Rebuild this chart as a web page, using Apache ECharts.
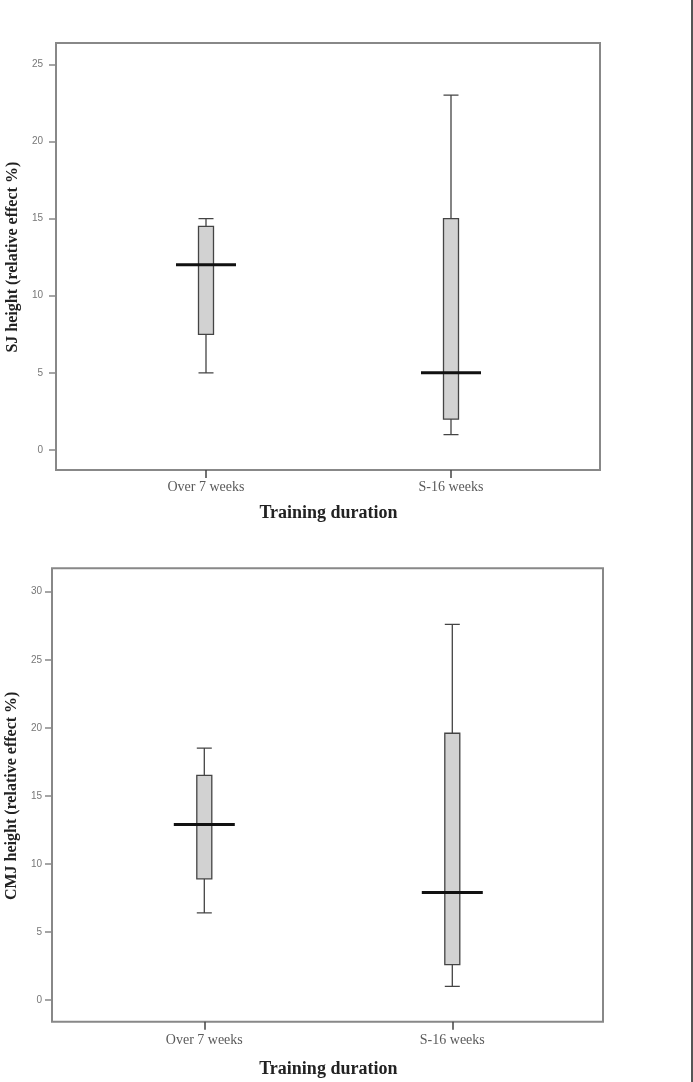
<!DOCTYPE html>
<html>
<head>
<meta charset="utf-8">
<script src="https://cdn.jsdelivr.net/npm/echarts@6/dist/echarts.min.js"></script>
<style>
  html, body { margin: 0; padding: 0; background: #fff; }
  #chart { width: 693px; height: 1082px; position: relative; }
  #edge { position: absolute; left: 691px; top: 0; width: 2px; height: 1082px; background: #555; }
</style>
</head>
<body>
<div id="chart"></div>
<div id="edge"></div>
<script>
// ---- data ----
const categories = ['Over 7 weeks', 'S-16 weeks'];
// [min, Q1, median, Q3, max]
const sjBox = [
  [5, 7.5, 12, 14.5, 15],
  [1, 2, 5, 15, 23]
];
const cmjBox = [
  [6.4, 8.9, 12.9, 16.5, 18.5],
  [1.0, 2.6, 7.9, 19.6, 27.6]
];
const sjTicks = [0, 25, 5];   // min, max, step
const cmjTicks = [0, 30, 5];
const xTitle = 'Training duration';
const sjTitle = 'SJ height (relative effect %)';
const cmjTitle = 'CMJ height (relative effect %)';

const medians = arr => arr.map((d, i) => [categories[i], d[2]]);

const serif = '"Liberation Serif", "DejaVu Serif", serif';
const sans = '"Liberation Sans", Arial, sans-serif';

function frameAxes(idx) {
  return {
    x: { gridIndex: idx, type: 'value', show: false, min: 0, max: 1 },
    y: { gridIndex: idx, type: 'value', show: false, min: 0, max: 1 }
  };
}

function dataX(idx, offset, labelMargin, nameGap) {
  return {
    gridIndex: idx, type: 'category', data: categories, offset: offset,
    axisLine: { show: false, onZero: false },
    axisTick: { show: true, alignWithLabel: true, length: 8, lineStyle: { color: '#444', width: 1.5 } },
    axisLabel: { margin: labelMargin, fontFamily: serif, fontSize: 14, color: '#5a5a5a' },
    name: xTitle, nameLocation: 'middle', nameGap: nameGap,
    nameTextStyle: { fontFamily: serif, fontWeight: 'bold', fontSize: 18, color: '#222' },
    splitLine: { show: false }
  };
}

function dataY(idx, ticks, offset, labelMargin, title, nameGap) {
  return {
    gridIndex: idx, type: 'value', min: ticks[0], max: ticks[1], interval: ticks[2], offset: offset,
    axisLine: { show: false, onZero: false },
    axisTick: { show: true, length: 7, lineStyle: { color: '#888', width: 1.5 } },
    axisLabel: { margin: labelMargin, fontFamily: sans, fontSize: 10, color: '#777' },
    splitLine: { show: false },
    name: title, nameLocation: 'middle', nameRotate: 90, nameGap: nameGap,
    nameTextStyle: { fontFamily: serif, fontWeight: 'bold', fontSize: 16, color: '#222' }
  };
}

const f0 = frameAxes(0), f2 = frameAxes(2);
const noBounds = { outerBoundsMode: 'none', containLabel: false };

const option = {
  animation: false,
  backgroundColor: '#fff',
  grid: [
    Object.assign({ left: 56, top: 43, width: 544, height: 427, show: true, borderColor: '#888', borderWidth: 2, backgroundColor: 'transparent' }, noBounds),
    Object.assign({ left: 83.5, top: 64.3, width: 490, height: 385.7 }, noBounds),
    Object.assign({ left: 52, top: 568.3, width: 551, height: 453.4, show: true, borderColor: '#888', borderWidth: 2, backgroundColor: 'transparent' }, noBounds),
    Object.assign({ left: 80.3, top: 591.7, width: 496, height: 408.3 }, noBounds)
  ],
  xAxis: [
    f0.x,
    dataX(1, 20, 10, 34),
    f2.x,
    dataX(3, 21.7, 12, 39)
  ],
  yAxis: [
    f0.y,
    dataY(1, sjTicks, 27.5, 13, sjTitle, 30),
    f2.y,
    dataY(3, cmjTicks, 28.3, 10, cmjTitle, 28)
  ],
  series: [
    {
      type: 'boxplot', xAxisIndex: 1, yAxisIndex: 1, data: sjBox, boxWidth: [15, 15],
      itemStyle: { color: '#d2d2d2', borderColor: '#444', borderWidth: 1.3 }
    },
    {
      type: 'scatter', xAxisIndex: 1, yAxisIndex: 1, data: medians(sjBox),
      symbol: 'rect', symbolSize: [60, 3], itemStyle: { color: '#111', opacity: 1 }
    },
    {
      type: 'boxplot', xAxisIndex: 3, yAxisIndex: 3, data: cmjBox, boxWidth: [15, 15],
      itemStyle: { color: '#d2d2d2', borderColor: '#444', borderWidth: 1.3 }
    },
    {
      type: 'scatter', xAxisIndex: 3, yAxisIndex: 3, data: medians(cmjBox),
      symbol: 'rect', symbolSize: [61, 3], itemStyle: { color: '#111', opacity: 1 }
    }
  ]
};

const chart = echarts.init(document.getElementById('chart'), null, { renderer: 'canvas' });
chart.setOption(option);
</script>
</body>
</html>
